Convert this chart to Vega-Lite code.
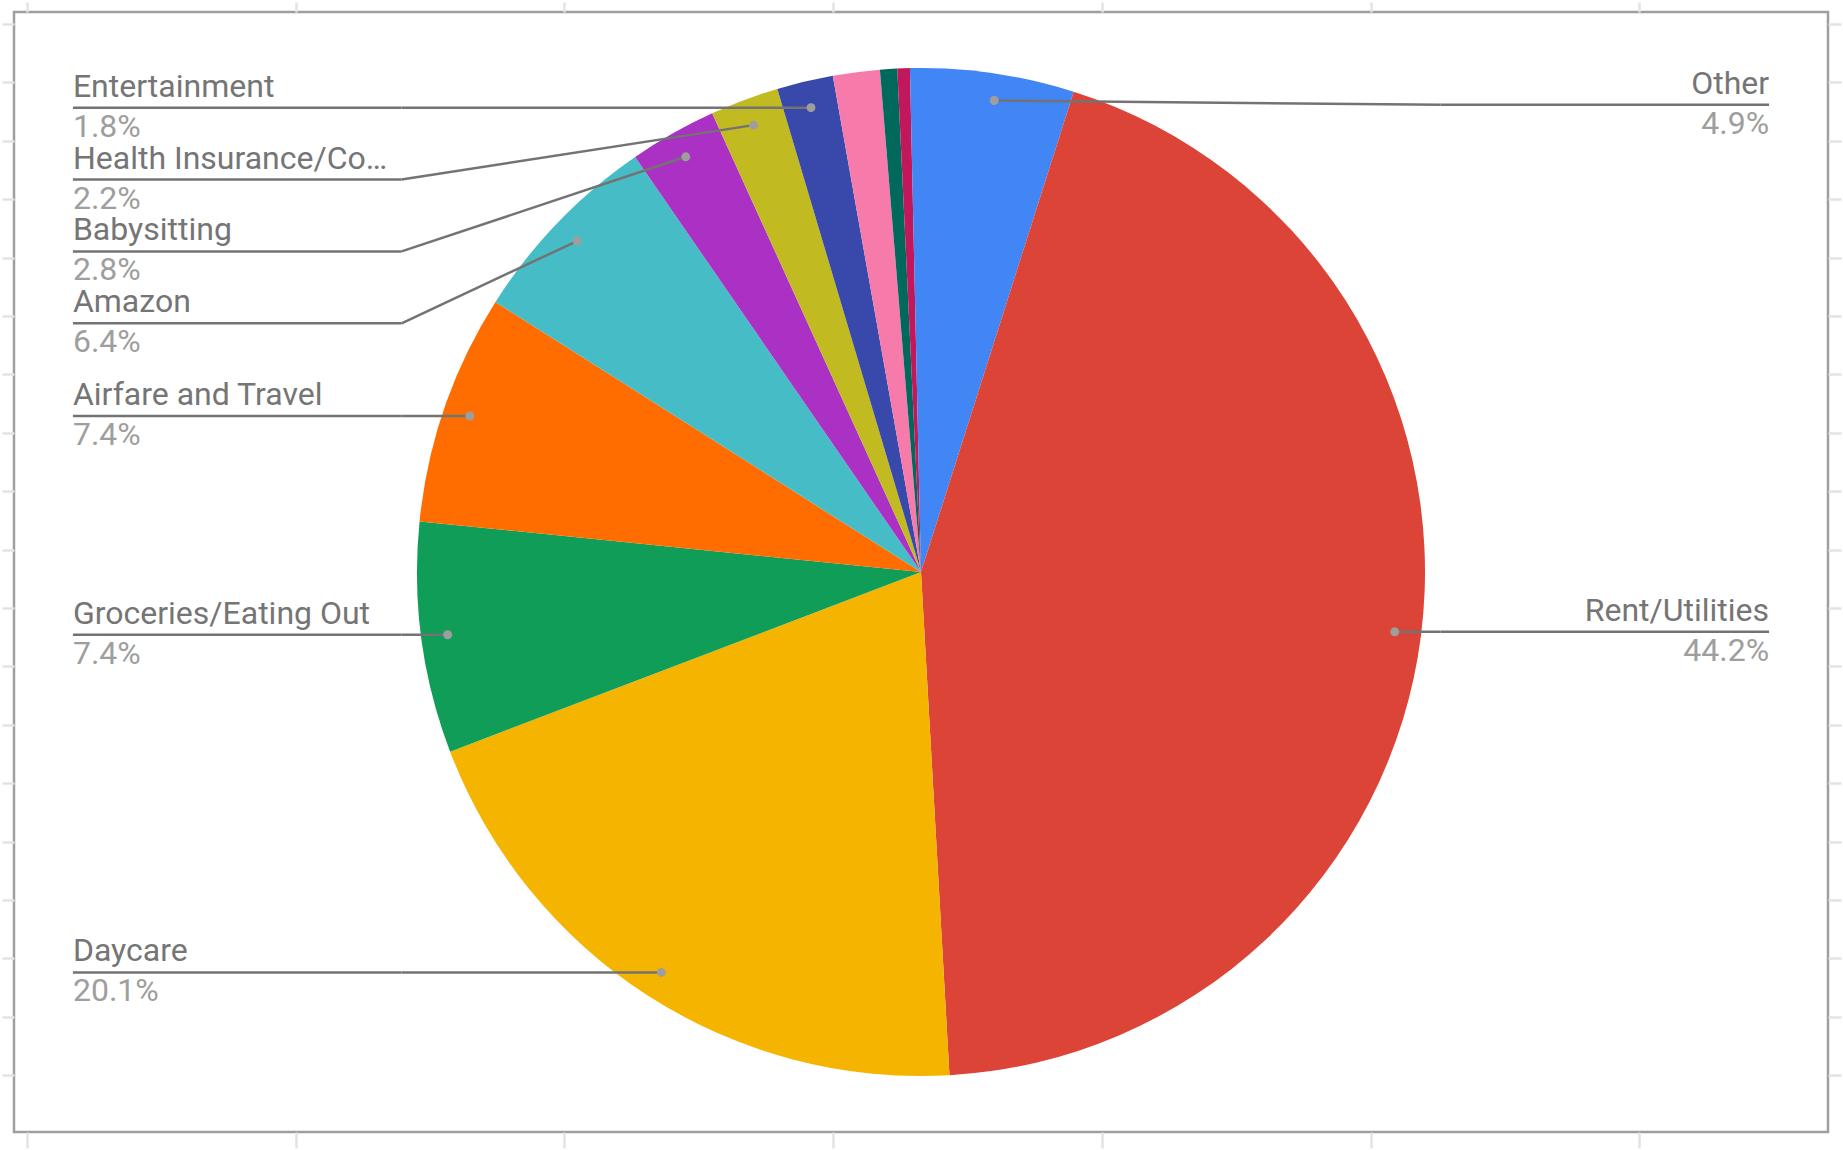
{
  "$schema": "https://vega.github.io/schema/vega-lite/v6.json",
  "width": 1843,
  "height": 1150,
  "autosize": {"type": "fit", "contains": "padding"},
  "padding": 0,
  "background": "white",
  "config": {
    "view": {"stroke": "#9e9e9e", "strokeWidth": 2.5},
    "text": {"font": "Roboto", "fontSize": 32},
    "axis": {"labels": false, "domain": false, "grid": false, "title": null, "ticks": true, "tickColor": "#e3e3e3", "tickWidth": 2.5}
  },
  "data": {
    "values": [
      {"order": 1, "category": "Other", "value": 4.9},
      {"order": 2, "category": "Rent/Utilities", "value": 44.2},
      {"order": 3, "category": "Daycare", "value": 20.1},
      {"order": 4, "category": "Groceries/Eating Out", "value": 7.4},
      {"order": 5, "category": "Airfare and Travel", "value": 7.4},
      {"order": 6, "category": "Amazon", "value": 6.4},
      {"order": 7, "category": "Babysitting", "value": 2.8},
      {"order": 8, "category": "Health Insurance/Co…", "value": 2.2},
      {"order": 9, "category": "Entertainment", "value": 1.8},
      {"order": 10, "category": "Misc A", "value": 1.5},
      {"order": 11, "category": "Misc B", "value": 0.55},
      {"order": 12, "category": "Misc C", "value": 0.4},
      {"order": 13, "category": "Misc D", "value": 0.35}
    ]
  },
  "transform": [
    {"joinaggregate": [{"op": "sum", "field": "value", "as": "total"}]},
    {"window": [{"op": "sum", "field": "value", "as": "cum"}], "sort": [{"field": "order"}], "frame": [null, 0]},
    {"calculate": "(datum.cum - datum.value/2)/datum.total*2*PI", "as": "mid"},
    {"calculate": "478*sin(datum.mid)", "as": "dotX"},
    {"calculate": "478*cos(datum.mid)", "as": "dotY"},
    {"calculate": "datum.value/datum.total", "as": "pct"},
    {"calculate": "datum.mid > PI ? 'left' : 'right'", "as": "side"}
  ],
  "layer": [
    {
      "mark": {"type": "arc", "outerRadius": 504},
      "encoding": {
        "theta": {"field": "value", "type": "quantitative", "stack": true},
        "order": {"field": "order", "type": "quantitative"},
        "color": {
          "field": "category",
          "type": "nominal",
          "legend": null,
          "scale": {
            "domain": ["Other", "Rent/Utilities", "Daycare", "Groceries/Eating Out", "Airfare and Travel", "Amazon", "Babysitting", "Health Insurance/Co…", "Entertainment", "Misc A", "Misc B", "Misc C", "Misc D"],
            "range": ["#4285F4", "#DB4437", "#F4B400", "#0F9D58", "#FF6D00", "#46BDC6", "#AB30C4", "#C1BA21", "#3949AB", "#F77BAA", "#00695C", "#C2185B", "#4285F4"]
          }
        }
      }
    },
    {
      "transform": [
        {"filter": "datum.pct >= 0.017"},
        {"window": [{"op": "row_number", "as": "rank"}], "groupby": ["side"], "sort": [{"field": "dotY", "order": "descending"}]},
        {"calculate": "-datum.dotY - (datum.rank-1)*72", "as": "k"},
        {"window": [{"op": "max", "field": "k", "as": "kmax"}], "groupby": ["side"], "sort": [{"field": "dotY", "order": "descending"}], "frame": [null, 0]},
        {"calculate": "-((datum.rank-1)*72 + max(-468, datum.kmax))", "as": "labelY"},
        {"calculate": "datum.side == 'left' ? -1 : 1", "as": "sgn"},
        {"calculate": "datum.sgn*520", "as": "elbowX"},
        {"calculate": "datum.sgn*849", "as": "endX"}
      ],
      "resolve": {"axis": {"x": "independent", "y": "independent"}},
      "layer": [
        {
          "mark": {"type": "rule", "stroke": "#737373", "strokeWidth": 2.5},
          "encoding": {
            "x": {"field": "dotX", "type": "quantitative", "scale": {"domain": [-908, 908], "nice": false, "zero": false},
                  "axis": {"orient": "top", "tickSize": 10, "values": [-895, -626, -357, -88, 181, 450, 719]}},
            "y": {"field": "dotY", "type": "quantitative", "scale": {"domain": [-561, 561], "nice": false, "zero": false},
                  "axis": {"orient": "left", "tickSize": 12, "values": [549, 490.5, 432, 373.5, 315, 256.5, 198, 139.5, 81, 22.5, -36, -94.5, -153, -211.5, -270, -328.5, -387, -445.5, -504]}},
            "x2": {"field": "elbowX"},
            "y2": {"field": "labelY"}
          }
        },
        {
          "mark": {"type": "rule", "stroke": "#737373", "strokeWidth": 2.5},
          "encoding": {
            "x": {"field": "elbowX", "type": "quantitative", "scale": {"domain": [-908, 908], "nice": false, "zero": false},
                  "axis": {"orient": "bottom", "tickSize": 16, "values": [-895, -626, -357, -88, 181, 450, 719]}},
            "y": {"field": "labelY", "type": "quantitative", "scale": {"domain": [-561, 561], "nice": false, "zero": false},
                  "axis": {"orient": "right", "tickSize": 13, "values": [549, 490.5, 432, 373.5, 315, 256.5, 198, 139.5, 81, 22.5, -36, -94.5, -153, -211.5, -270, -328.5, -387, -445.5, -504]}},
            "x2": {"field": "endX"},
            "y2": {"field": "labelY"}
          }
        },
        {
          "mark": {"type": "circle", "color": "#9e9e9e", "opacity": 1, "size": 80},
          "encoding": {
            "x": {"field": "dotX", "type": "quantitative", "axis": null, "scale": {"domain": [-908, 908], "nice": false, "zero": false}},
            "y": {"field": "dotY", "type": "quantitative", "axis": null, "scale": {"domain": [-561, 561], "nice": false, "zero": false}}
          }
        },
        {
          "transform": [{"filter": "datum.side == 'left'"}],
          "mark": {"type": "text", "align": "left", "baseline": "alphabetic", "dy": -11, "color": "#757575"},
          "encoding": {
            "x": {"field": "endX", "type": "quantitative", "axis": null, "scale": {"domain": [-908, 908], "nice": false, "zero": false}},
            "y": {"field": "labelY", "type": "quantitative", "axis": null, "scale": {"domain": [-561, 561], "nice": false, "zero": false}},
            "text": {"field": "category"}
          }
        },
        {
          "transform": [{"filter": "datum.side == 'left'"}],
          "mark": {"type": "text", "align": "left", "baseline": "alphabetic", "dy": 29, "color": "#9e9e9e"},
          "encoding": {
            "x": {"field": "endX", "type": "quantitative", "axis": null, "scale": {"domain": [-908, 908], "nice": false, "zero": false}},
            "y": {"field": "labelY", "type": "quantitative", "axis": null, "scale": {"domain": [-561, 561], "nice": false, "zero": false}},
            "text": {"field": "pct", "type": "quantitative", "format": ".1%"}
          }
        },
        {
          "transform": [{"filter": "datum.side == 'right'"}],
          "mark": {"type": "text", "align": "right", "baseline": "alphabetic", "dy": -11, "color": "#757575"},
          "encoding": {
            "x": {"field": "endX", "type": "quantitative", "axis": null, "scale": {"domain": [-908, 908], "nice": false, "zero": false}},
            "y": {"field": "labelY", "type": "quantitative", "axis": null, "scale": {"domain": [-561, 561], "nice": false, "zero": false}},
            "text": {"field": "category"}
          }
        },
        {
          "transform": [{"filter": "datum.side == 'right'"}],
          "mark": {"type": "text", "align": "right", "baseline": "alphabetic", "dy": 29, "color": "#9e9e9e"},
          "encoding": {
            "x": {"field": "endX", "type": "quantitative", "axis": null, "scale": {"domain": [-908, 908], "nice": false, "zero": false}},
            "y": {"field": "labelY", "type": "quantitative", "axis": null, "scale": {"domain": [-561, 561], "nice": false, "zero": false}},
            "text": {"field": "pct", "type": "quantitative", "format": ".1%"}
          }
        }
      ]
    }
  ]
}
